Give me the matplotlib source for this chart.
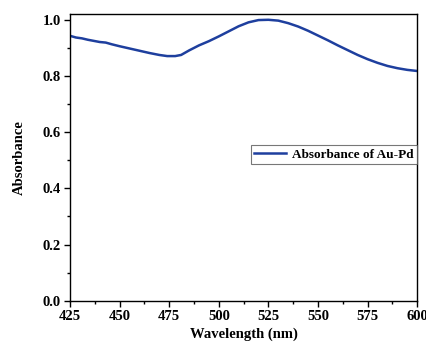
import numpy as np
import matplotlib.pyplot as plt
from matplotlib.ticker import MultipleLocator

# --- UV-Vis absorbance readings ---
wavelength = [425, 428, 431, 434, 437, 440, 443, 446, 450, 455, 460, 465, 470, 474, 478,
              481, 485, 490, 495, 500, 505, 510, 515, 520, 525, 530, 535, 540, 545,
              550, 555, 560, 565, 570, 575, 580, 585, 590, 595, 600]
absorbance = [0.942, 0.936, 0.933, 0.928, 0.924, 0.920, 0.918, 0.912, 0.905, 0.897, 0.889,
              0.881, 0.874, 0.870, 0.870, 0.874, 0.890, 0.908, 0.923, 0.940, 0.958, 0.976,
              0.990, 0.998, 0.999, 0.996, 0.987, 0.975, 0.960, 0.943, 0.926, 0.908, 0.891,
              0.874, 0.859, 0.846, 0.835, 0.827, 0.821, 0.817]

plt.rcParams['font.family'] = ['Liberation Serif', 'DejaVu Serif']
plt.rcParams['font.weight'] = 'bold'

fig, ax = plt.subplots(figsize=(4.27, 3.47), dpi=100)
fig.subplots_adjust(left=0.164, right=0.977, top=0.96, bottom=0.133)

ax.plot(wavelength, absorbance, color='#1e3f9e', lw=1.8, label='Absorbance of Au-Pd')

ax.set_xlim(425, 600)
ax.set_ylim(0, 1.02)
ax.xaxis.set_major_locator(MultipleLocator(25))
ax.xaxis.set_minor_locator(MultipleLocator(12.5))
ax.yaxis.set_major_locator(MultipleLocator(0.2))
ax.yaxis.set_minor_locator(MultipleLocator(0.1))
ax.yaxis.set_major_formatter(plt.FuncFormatter(lambda v, p: f"{v:.1f}"))
ax.tick_params(which='both', direction='out', width=1.0, labelsize=10.5, pad=2.5)
ax.tick_params(which='major', length=4)
ax.tick_params(which='minor', length=2.5)
for s in ax.spines.values():
    s.set_linewidth(1.0)

ax.set_xlabel('Wavelength (nm)', fontsize=10.5, fontweight='bold', labelpad=3)
ax.set_ylabel('Absorbance', fontsize=10.5, fontweight='bold', labelpad=12)

leg = ax.legend(loc='center right', bbox_to_anchor=(1.0, 0.51), fontsize=9.5,
                frameon=True, fancybox=False, edgecolor='#555555',
                handlelength=2.4, handletextpad=0.5, borderpad=0.25, borderaxespad=0.0)
leg.get_frame().set_linewidth(0.8)

fig.savefig('out.png', dpi=100)
